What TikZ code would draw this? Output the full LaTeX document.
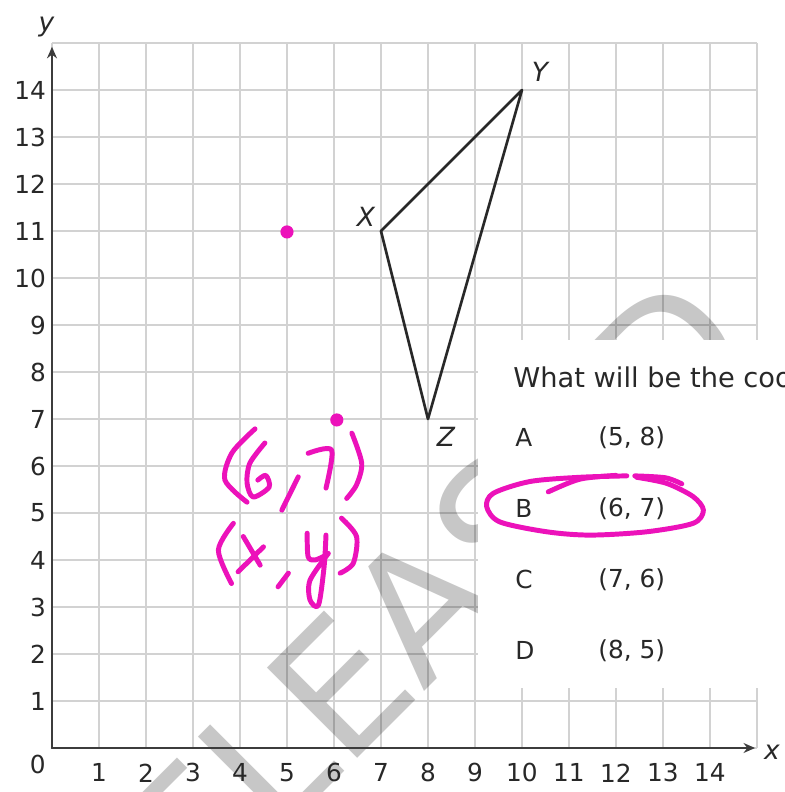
\documentclass[tikz,border=0pt]{standalone}
\usepackage{fontspec}
\setmainfont{DejaVu Sans}
\usetikzlibrary{arrows.meta}
\definecolor{penpink}{RGB}{236,18,186}
\definecolor{gridgray}{RGB}{210,210,210}
\definecolor{axisgray}{RGB}{60,60,60}
\definecolor{inkgray}{RGB}{40,40,40}

\begin{document}
\begin{tikzpicture}[line join=round, line cap=round,
  gridline/.style={gridgray, line width=1.5pt, line cap=butt},
  axisline/.style={axisgray, line width=1.2pt, -{Stealth[length=7pt,width=6pt]}},
  ticklabel/.style={inkgray, font=\fontsize{15}{18}\selectfont, inner sep=0pt},
  vlabel/.style={inkgray, font=\fontsize{16}{19}\selectfont\itshape, inner sep=0pt},
  optlabel/.style={inkgray, font=\fontsize{15}{18}\selectfont, anchor=west, inner sep=0pt},
  pen/.style={penpink, line width=3pt},
  dot/.style={circle, fill=penpink, inner sep=0pt, minimum size=0.28cm}]
  % ========================================================
  % 0. PAGE FRAME
  % ========================================================
  \useasboundingbox (-1.106,-0.936) rectangle (15.596,15.915);
  \clip (-1.106,-0.936) rectangle (15.596,15.915);

  % ========================================================
  % 1. GRID AND WATERMARK
  % ========================================================
  \draw[gridline] (0,0) grid (15,15);
  \node[text=black, opacity=0.22, font=\fontsize{106}{106}\selectfont,
        rotate=45, anchor=base west, inner sep=0pt] (mark) at (1.274,-5.445) {RELEASED};

  % ========================================================
  % 2. AXES AND TICK LABELS
  % ========================================================
  \coordinate (O) at (0,0);
  \coordinate (xtip) at (14.96,0);
  \coordinate (ytip) at (0,14.92);
  \draw[axisline] (O) -- (xtip);
  \draw[axisline] (O) -- (ytip);
  \node[vlabel] (xname) at (15.32,-0.09) {x};
  \node[vlabel] (yname) at (-0.12,15.34) {y};
  \node[ticklabel] (zero) at (-0.30,-0.36) {0};
  \foreach \i in {1,...,14} {
    \node[ticklabel] (xt\i) at (\i,-0.53) {\i};
    \node[ticklabel, anchor=east] (yt\i) at (-0.12,\i) {\i};
  }

  % ========================================================
  % 3. TRIANGLE XYZ
  % ========================================================
  \coordinate (X) at (7,11);
  \coordinate (Y) at (10,14);
  \coordinate (Z) at (8,7);
  \draw[inkgray, line width=1.6pt] (X) -- (Y) -- (Z) -- cycle;
  \node[vlabel] (lX) at (6.68,11.3) {X};
  \node[vlabel] (lY) at (10.38,14.38) {Y};
  \node[vlabel] (lZ) at (8.38,6.62) {Z};

  % ========================================================
  % 4. QUESTION PANEL
  % ========================================================
  \fill[white] (9.06,1.28) rectangle (15.7,8.68);
  \node[optlabel, font=\fontsize{16.5}{19}\selectfont] (question) at (9.81,7.89) {What will be the coo};
  \node[optlabel] (optA) at (9.85,6.60) {A};
  \node[optlabel] (valA) at (11.62,6.60) {(5, 8)};
  \node[optlabel] (optB) at (9.85,5.09) {B};
  \node[optlabel] (valB) at (11.62,5.09) {(6, 7)};
  \node[optlabel] (optC) at (9.85,3.58) {C};
  \node[optlabel] (valC) at (11.62,3.58) {(7, 6)};
  \node[optlabel] (optD) at (9.85,2.07) {D};
  \node[optlabel] (valD) at (11.62,2.07) {(8, 5)};

  % ========================================================
  % 5. HANDWRITTEN MARKS
  % ========================================================
  \node[dot] (p1) at (5,10.98) {};
  \node[dot] (p2) at (6.06,6.98) {};
  % (6,7)
  \draw[pen] plot[smooth] coordinates {(4.32,6.79) (3.83,6.28) (3.68,5.70) (4.15,5.23)};
  \draw[pen] plot[smooth] coordinates {(4.53,6.49) (4.21,6.06) (4.15,5.64) (4.28,5.34) (4.62,5.55) (4.55,5.80) (4.38,5.70)};
  \draw[pen] (5.24,5.77) -- (4.89,5.06);
  \draw[pen] plot[smooth] coordinates {(5.45,6.27) (5.95,6.34) (5.83,5.53)};
  \draw[pen] plot[smooth] coordinates {(6.38,6.70) (6.59,6.06) (6.48,5.60) (6.27,5.31)};
  % (x,y)
  \draw[pen] plot[smooth] coordinates {(3.86,4.78) (3.54,4.21) (3.82,3.50)};
  \draw[pen] (4.07,4.50) -- (4.43,3.89);
  \draw[pen] (4.50,4.28) -- (3.96,3.75);
  \draw[pen] (5.03,3.72) -- (4.81,3.43);
  \draw[pen] plot[smooth] coordinates {(5.43,4.57) (5.45,4.07) (5.60,4.00) (5.84,4.11)};
  \draw[pen] plot[smooth] coordinates {(5.83,4.53) (5.79,3.86) (5.67,3.04) (5.49,3.15) (5.49,3.57) (5.88,4.14)};
  \draw[pen] plot[smooth] coordinates {(6.16,4.89) (6.48,4.50) (6.41,3.93) (6.13,3.72)};
  % loop round B
  \draw[pen] plot[smooth] coordinates {(12.23,5.79) (11.23,5.76) (10.17,5.67) (9.39,5.42) (9.25,5.13) (9.53,4.81) (10.53,4.60) (11.45,4.53) (12.65,4.60) (13.64,4.78) (13.86,5.06) (13.64,5.35) (13.08,5.63) (12.44,5.76)};
  \draw[pen] plot[smooth] coordinates {(10.56,5.45) (11.23,5.72) (12.0,5.80)};
  \draw[pen] plot[smooth] coordinates {(12.40,5.79) (13.05,5.75) (13.40,5.62)};
\end{tikzpicture}
\end{document}
